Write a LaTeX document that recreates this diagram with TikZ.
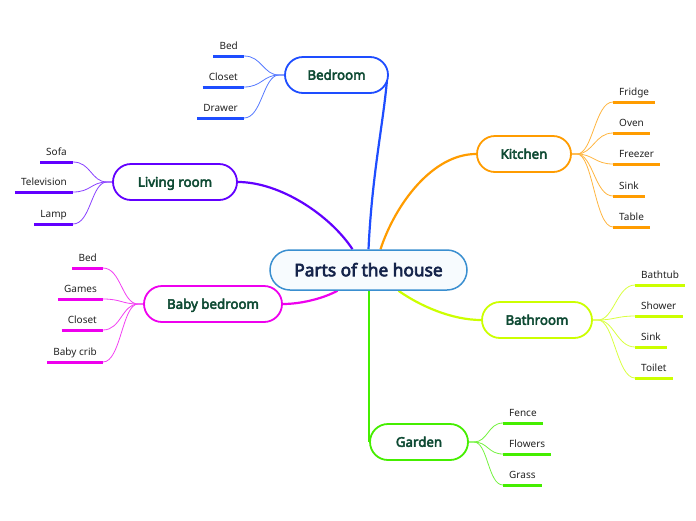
\documentclass[tikz,border=0pt]{standalone}
\usepackage{fontspec}
\setmainfont{Noto Sans}[AutoFakeBold=3.6]
\usetikzlibrary{backgrounds,calc}
\definecolor{bedroomc}{HTML}{1E4DFF}
\definecolor{kitchenc}{HTML}{FF9C00}
\definecolor{livingc}{HTML}{6200FF}
\definecolor{babyc}{HTML}{EE00EE}
\definecolor{bathc}{HTML}{CCFF00}
\definecolor{gardenc}{HTML}{45EE00}
\definecolor{centerc}{HTML}{3A8FD0}
\definecolor{centerfill}{HTML}{F7FBFE}
\definecolor{textgreen}{HTML}{0E4A33}
\definecolor{centertext}{HTML}{14234A}
\definecolor{leaftext}{HTML}{222222}
\begin{document}
\begin{tikzpicture}[x=1pt,y=-1pt,
  mainbox/.style={draw=centerc, line width=1.5pt, fill=centerfill, rounded corners=20pt,
    minimum height=40pt, minimum width=197pt, inner sep=0pt,
    text height=12.4pt, text depth=0pt,
    font=\fontsize{17.3}{20}\selectfont\bfseries, text=centertext},
  branch/.style={draw=#1, line width=1.8pt, fill=white, rounded corners=18pt,
    minimum height=36pt, inner xsep=18pt, inner ysep=0pt,
    text height=9.5pt, text depth=0pt,
    font=\fontsize{13.3}{15}\selectfont\bfseries, text=textgreen},
  leaf/.style={inner xsep=6pt, inner ysep=4.5pt, text depth=2pt, text height=7.5pt,
    font=\fontsize{10}{12}\selectfont, text=leaftext},
  uline/.style={draw=#1, line width=3pt},
  twig/.style={draw=#1!75, line width=0.8pt},
  limb/.style={draw=#1, line width=2.2pt},
]
\useasboundingbox (0,0) rectangle (696,520);

% central and branch nodes
\node[mainbox] (c) at (368.5,270) {Parts of the house};
\node[branch=bedroomc, minimum width=103pt] (bed) at (336.5,75) {Bedroom};
\node[branch=kitchenc, minimum width=94pt] (kit) at (524,154) {Kitchen};
\node[branch=livingc, minimum width=124pt] (liv) at (175,182) {Living room};
\node[branch=babyc, minimum width=138pt] (baby) at (213,304) {Baby bedroom};
\node[branch=bathc, minimum width=110pt] (bath) at (537,320) {Bathroom};
\node[branch=gardenc, minimum width=98pt] (gar) at (419,442) {Garden};

% main limbs
\begin{pgfonlayer}{background}
\draw[limb=bedroomc] (c.north) .. controls (372,175) and (383,125) .. ($(bed.east)+(-2,6)$);
\draw[limb=kitchenc] ($(c.north)+(12,0)$) .. controls (395,205) and (432,154) .. (kit.west);
\draw[limb=livingc] ($(c.north)+(-16,0)$) .. controls (330,215) and (280,182) .. (liv.east);
\draw[limb=babyc] ($(c.south)+(-31,0)$) .. controls (322,299) and (300,304) .. (baby.east);
\draw[limb=bathc] ($(c.south)+(30,0)$) .. controls (420,306) and (452,320) .. (bath.west);
\draw[limb=gardenc] (gar.west |- c.south) -- (gar.west);
\end{pgfonlayer}

% Bedroom leaves (left side)
\foreach \n/\y/\t in {b1/56/Bed, b2/87/Closet, b3/118/Drawer}{
  \node[leaf, anchor=south east] (\n) at (244,\y) {\t};
  \draw[uline=bedroomc] (\n.south west) -- (\n.south east);
  \draw[twig=bedroomc] (\n.south east) .. controls +(18,0) and +(-16,0) .. ($(bed.west)+(-5,0)$) -- (bed.west);
}
% Living room leaves (left side)
\foreach \n/\y/\t in {l1/162/Sofa, l2/192/Television, l3/224/Lamp}{
  \node[leaf, anchor=south east] (\n) at (73,\y) {\t};
  \draw[uline=livingc] (\n.south west) -- (\n.south east);
  \draw[twig=livingc] (\n.south east) .. controls +(18,0) and +(-16,0) .. ($(liv.west)+(-5,0)$) -- (liv.west);
}
% Baby bedroom leaves (left side)
\foreach \n/\y/\t in {y1/268/Bed, y2/299/Games, y3/330/Closet, y4/362/Baby crib}{
  \node[leaf, anchor=south east] (\n) at (103,\y) {\t};
  \draw[uline=babyc] (\n.south west) -- (\n.south east);
  \draw[twig=babyc] (\n.south east) .. controls +(18,0) and +(-16,0) .. ($(baby.west)+(-5,0)$) -- (baby.west);
}
% Kitchen leaves (right side)
\foreach \n/\y/\t in {k1/102/Fridge, k2/133/Oven, k3/164/Freezer, k4/196/Sink, k5/227/Table}{
  \node[leaf, anchor=south west] (\n) at (613,\y) {\t};
  \draw[uline=kitchenc] (\n.south west) -- (\n.south east);
  \draw[twig=kitchenc] (kit.east) -- ++(5,0) .. controls +(16,0) and +(-18,0) .. (\n.south west);
}
% Bathroom leaves (right side)
\foreach \n/\y/\t in {t1/285/Bathtub, t2/316/Shower, t3/347/Sink, t4/378/Toilet}{
  \node[leaf, anchor=south west] (\n) at (635,\y) {\t};
  \draw[uline=bathc] (\n.south west) -- (\n.south east);
  \draw[twig=bathc] (bath.east) -- ++(5,0) .. controls +(16,0) and +(-18,0) .. (\n.south west);
}
% Garden leaves (right side)
\foreach \n/\y/\t in {g1/423/Fence, g2/454/Flowers, g3/485/Grass}{
  \node[leaf, anchor=south west] (\n) at (503,\y) {\t};
  \draw[uline=gardenc] (\n.south west) -- (\n.south east);
  \draw[twig=gardenc] (gar.east) -- ++(5,0) .. controls +(14,0) and +(-15,0) .. (\n.south west);
}
\end{tikzpicture}
\end{document}
